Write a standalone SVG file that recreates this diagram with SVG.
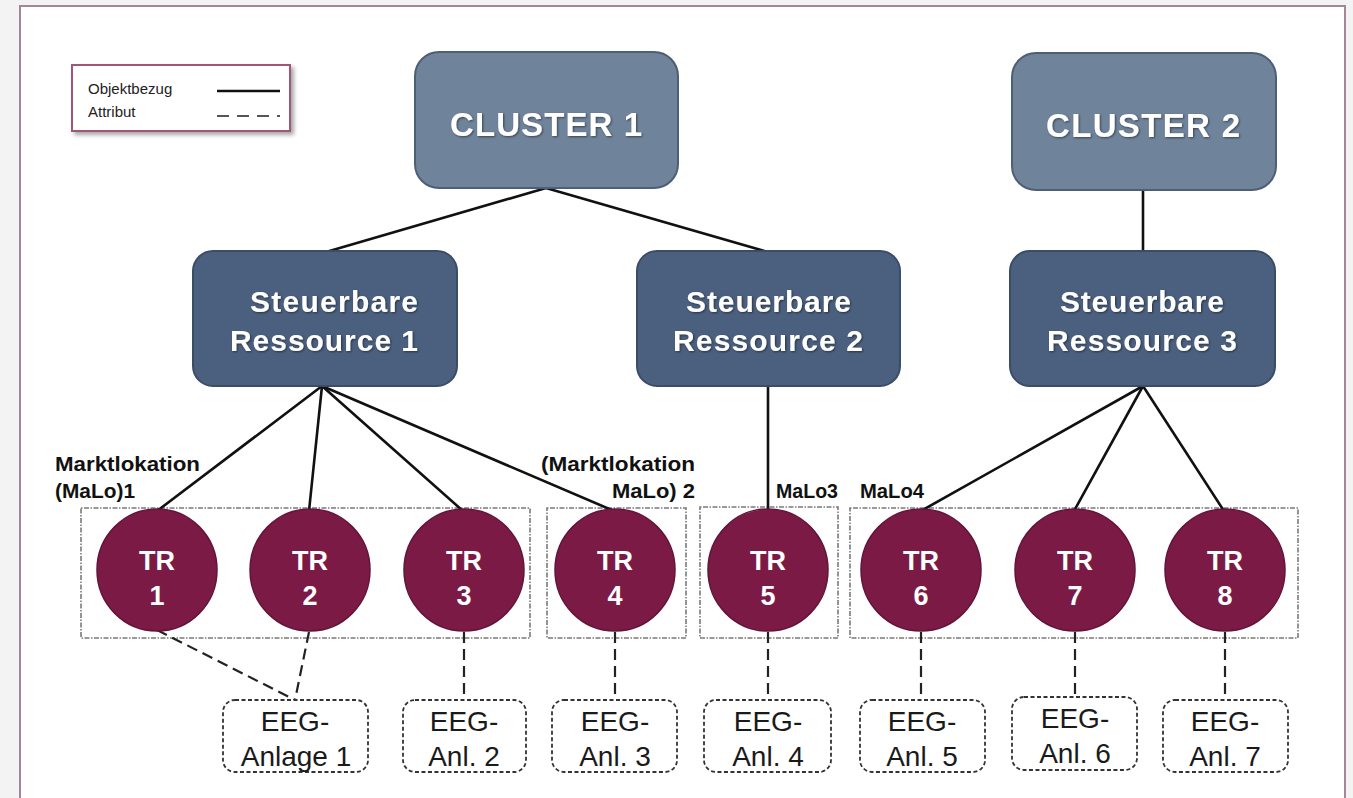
<svg xmlns="http://www.w3.org/2000/svg" width="1353" height="798" viewBox="0 0 1353 798">
<style>
.bg{fill:#f3f3f3}
.page{fill:#fff;stroke:#a08898;stroke-width:2}
.cl{fill:#6f839b;stroke:#4e5f74;stroke-width:2}
.sr{fill:#4b607e;stroke:#3b4c66;stroke-width:2}
.tr{fill:#7b1a45;stroke:#64133a;stroke-width:1.5}
.grp{fill:none;stroke:#7a7a7a;stroke-width:1.6;stroke-dasharray:1.5 1.5 5 1.5}
.eeg{fill:#fff;stroke:#333;stroke-width:1.8;stroke-dasharray:4 2.5}
.solid{stroke:#111;stroke-width:2.6;fill:none;stroke-linecap:round}
.dash{stroke:#222;stroke-width:2.2;fill:none;stroke-dasharray:11 6}
.wt{font-family:"Liberation Sans",Arial,sans-serif;font-weight:bold;fill:#fff}
.lab{font-family:"Liberation Sans",Arial,sans-serif;font-weight:bold;fill:#111;font-size:20px}
.et{font-family:"Liberation Sans",Arial,sans-serif;fill:#1a1a1a;font-size:28px;text-anchor:middle}
.lg{font-family:"Liberation Sans",Arial,sans-serif;fill:#222;font-size:15px}
</style>
<defs>
<filter id="sh" x="-10%" y="-10%" width="130%" height="140%">
<feGaussianBlur in="SourceAlpha" stdDeviation="2"/>
<feOffset dx="3" dy="3" result="o"/>
<feComponentTransfer><feFuncA type="linear" slope="0.35"/></feComponentTransfer>
<feMerge><feMergeNode/><feMergeNode in="SourceGraphic"/></feMerge>
</filter>
<filter id="ts" x="-5%" y="-20%" width="110%" height="140%">
<feGaussianBlur in="SourceAlpha" stdDeviation="1"/>
<feOffset dx="1" dy="1"/>
<feComponentTransfer><feFuncA type="linear" slope="0.5"/></feComponentTransfer>
<feMerge><feMergeNode/><feMergeNode in="SourceGraphic"/></feMerge>
</filter>
</defs>
<rect class="bg" x="0" y="0" width="1353" height="798"/>
<rect class="page" x="20" y="6" width="1325" height="800"/>

<g id="legend">
<rect x="72" y="65" width="218" height="66" fill="#fff" stroke="#a0557a" stroke-width="2" filter="url(#sh)"/>
<text class="lg" x="88" y="94">Objektbezug</text>
<text class="lg" x="88" y="117">Attribut</text>
<line x1="217" y1="91" x2="280" y2="91" stroke="#111" stroke-width="2.5"/>
<line x1="217" y1="116" x2="280" y2="116" stroke="#555" stroke-width="2" stroke-dasharray="12 8"/>
</g>

<g id="groups">
<rect class="grp" x="81" y="508" width="449" height="130"/>
<rect class="grp" x="547" y="508" width="139" height="130"/>
<rect class="grp" x="700" y="507" width="138" height="131"/>
<rect class="grp" x="850" y="508" width="448" height="130"/>
<text class="lab" x="55" y="471" textLength="145" lengthAdjust="spacingAndGlyphs">Marktlokation</text>
<text class="lab" x="55" y="498" textLength="80" lengthAdjust="spacingAndGlyphs">(MaLo)1</text>
<text class="lab" x="541" y="471" textLength="154" lengthAdjust="spacingAndGlyphs">(Marktlokation</text>
<text class="lab" x="612" y="498" textLength="83" lengthAdjust="spacingAndGlyphs">MaLo)  2</text>
<text class="lab" x="776" y="498" textLength="62" lengthAdjust="spacingAndGlyphs">MaLo3</text>
<text class="lab" x="860" y="498" textLength="64" lengthAdjust="spacingAndGlyphs">MaLo4</text>
</g>

<g id="connectors">
<line class="solid" x1="546" y1="188" x2="326" y2="252"/>
<line class="solid" x1="546" y1="188" x2="768" y2="252"/>
<line class="solid" x1="1143" y1="190" x2="1143" y2="251"/>
<line class="solid" x1="322" y1="386" x2="157" y2="511"/>
<line class="solid" x1="322" y1="386" x2="309" y2="511"/>
<line class="solid" x1="322" y1="386" x2="463" y2="511"/>
<line class="solid" x1="322" y1="386" x2="614" y2="511"/>
<line class="solid" x1="768" y1="386" x2="768" y2="511"/>
<line class="solid" x1="1143" y1="386" x2="921" y2="511"/>
<line class="solid" x1="1143" y1="386" x2="1074" y2="511"/>
<line class="solid" x1="1143" y1="386" x2="1224" y2="511"/>
<line class="dash" x1="157" y1="630" x2="295" y2="700"/>
<line class="dash" x1="309" y1="632" x2="295" y2="700"/>
<line class="dash" x1="464" y1="632" x2="464" y2="700"/>
<line class="dash" x1="615" y1="632" x2="615" y2="700"/>
<line class="dash" x1="768" y1="632" x2="768" y2="700"/>
<line class="dash" x1="921" y1="632" x2="921" y2="700"/>
<line class="dash" x1="1075" y1="632" x2="1075" y2="697"/>
<line class="dash" x1="1225" y1="632" x2="1225" y2="700"/>
</g>

<g id="cluster1">
<rect class="cl" x="415" y="52" width="263" height="136" rx="24"/>
<text class="wt" x="546" y="136" font-size="33" text-anchor="middle" textLength="192" lengthAdjust="spacing" filter="url(#ts)">CLUSTER 1</text>
</g>
<g id="cluster2">
<rect class="cl" x="1012" y="53" width="264" height="137" rx="24"/>
<text class="wt" x="1143" y="137" font-size="33" text-anchor="middle" textLength="194" lengthAdjust="spacing" filter="url(#ts)">CLUSTER 2</text>
</g>

<g id="sr1">
<rect class="sr" x="193" y="251" width="264" height="135" rx="20"/>
<text class="wt" x="250" y="312" font-size="30" textLength="168" lengthAdjust="spacing" filter="url(#ts)">Steuerbare</text>
<text class="wt" x="230" y="351" font-size="30" textLength="188" lengthAdjust="spacing" filter="url(#ts)">Ressource 1</text>
</g>
<g id="sr2">
<rect class="sr" x="637" y="251" width="263" height="135" rx="20"/>
<text class="wt" x="686" y="312" font-size="30" textLength="165" lengthAdjust="spacing" filter="url(#ts)">Steuerbare</text>
<text class="wt" x="673" y="351" font-size="30" textLength="190" lengthAdjust="spacing" filter="url(#ts)">Ressource 2</text>
</g>
<g id="sr3">
<rect class="sr" x="1010" y="251" width="265" height="135" rx="20"/>
<text class="wt" x="1060" y="312" font-size="30" textLength="164" lengthAdjust="spacing" filter="url(#ts)">Steuerbare</text>
<text class="wt" x="1047" y="351" font-size="30" textLength="190" lengthAdjust="spacing" filter="url(#ts)">Ressource 3</text>
</g>

<g id="tr1"><ellipse class="tr" cx="157" cy="570" rx="60" ry="61"/><text class="wt" font-size="27" text-anchor="middle" x="157" y="570">TR</text><text class="wt" font-size="27" text-anchor="middle" x="157" y="605">1</text></g>
<g id="tr2"><ellipse class="tr" cx="310" cy="570" rx="60" ry="61"/><text class="wt" font-size="27" text-anchor="middle" x="310" y="570">TR</text><text class="wt" font-size="27" text-anchor="middle" x="310" y="605">2</text></g>
<g id="tr3"><ellipse class="tr" cx="464" cy="570" rx="60" ry="61"/><text class="wt" font-size="27" text-anchor="middle" x="464" y="570">TR</text><text class="wt" font-size="27" text-anchor="middle" x="464" y="605">3</text></g>
<g id="tr4"><ellipse class="tr" cx="615" cy="570" rx="60" ry="61"/><text class="wt" font-size="27" text-anchor="middle" x="615" y="570">TR</text><text class="wt" font-size="27" text-anchor="middle" x="615" y="605">4</text></g>
<g id="tr5"><ellipse class="tr" cx="768" cy="570" rx="60" ry="61"/><text class="wt" font-size="27" text-anchor="middle" x="768" y="570">TR</text><text class="wt" font-size="27" text-anchor="middle" x="768" y="605">5</text></g>
<g id="tr6"><ellipse class="tr" cx="921" cy="570" rx="60" ry="61"/><text class="wt" font-size="27" text-anchor="middle" x="921" y="570">TR</text><text class="wt" font-size="27" text-anchor="middle" x="921" y="605">6</text></g>
<g id="tr7"><ellipse class="tr" cx="1075" cy="570" rx="60" ry="61"/><text class="wt" font-size="27" text-anchor="middle" x="1075" y="570">TR</text><text class="wt" font-size="27" text-anchor="middle" x="1075" y="605">7</text></g>
<g id="tr8"><ellipse class="tr" cx="1225" cy="570" rx="60" ry="61"/><text class="wt" font-size="27" text-anchor="middle" x="1225" y="570">TR</text><text class="wt" font-size="27" text-anchor="middle" x="1225" y="605">8</text></g>

<g id="eeg1"><rect class="eeg" x="223" y="700" width="145" height="72" rx="12"/><text class="et" x="295" y="731">EEG-</text><text class="et" x="296" y="766">Anlage 1</text></g>
<g id="eeg2"><rect class="eeg" x="403" y="700" width="123" height="72" rx="12"/><text class="et" x="464" y="731">EEG-</text><text class="et" x="464" y="766">Anl. 2</text></g>
<g id="eeg3"><rect class="eeg" x="552" y="700" width="125" height="72" rx="12"/><text class="et" x="615" y="731">EEG-</text><text class="et" x="615" y="766">Anl. 3</text></g>
<g id="eeg4"><rect class="eeg" x="704" y="700" width="127" height="72" rx="12"/><text class="et" x="768" y="731">EEG-</text><text class="et" x="768" y="766">Anl. 4</text></g>
<g id="eeg5"><rect class="eeg" x="860" y="700" width="125" height="72" rx="12"/><text class="et" x="922" y="731">EEG-</text><text class="et" x="922" y="766">Anl. 5</text></g>
<g id="eeg6"><rect class="eeg" x="1012" y="697" width="125" height="73" rx="12"/><text class="et" x="1075" y="728">EEG-</text><text class="et" x="1075" y="763">Anl. 6</text></g>
<g id="eeg7"><rect class="eeg" x="1163" y="700" width="125" height="72" rx="12"/><text class="et" x="1225" y="731">EEG-</text><text class="et" x="1225" y="766">Anl. 7</text></g>
</svg>
